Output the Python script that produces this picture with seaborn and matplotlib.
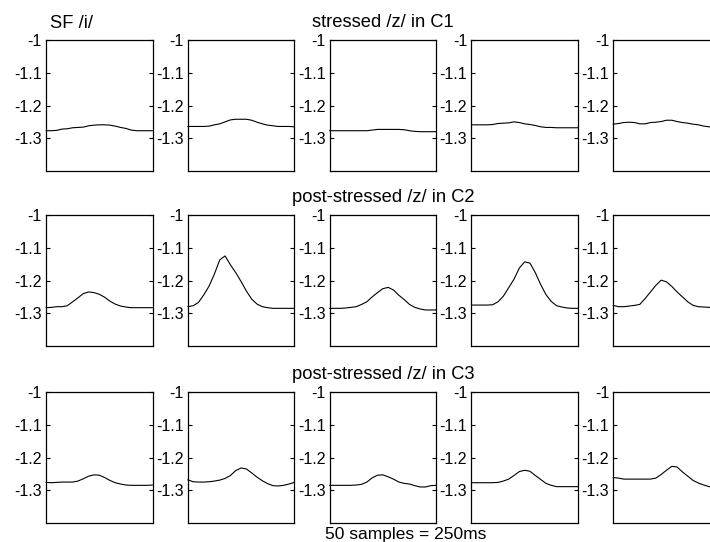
import matplotlib
matplotlib.use("Agg")
import matplotlib.pyplot as plt
import seaborn as sns
import numpy as np
import pandas as pd

# ---- data (21 samples per curve) ----
samples = list(range(21))

c1_1 = [-1.277, -1.277, -1.276, -1.272, -1.271, -1.268, -1.267, -1.266, -1.262, -1.260, -1.259,
        -1.259, -1.260, -1.263, -1.267, -1.270, -1.275, -1.277, -1.277, -1.277, -1.277]
c1_2 = [-1.264, -1.264, -1.264, -1.264, -1.263, -1.259, -1.256, -1.250, -1.244, -1.242, -1.242,
        -1.242, -1.245, -1.251, -1.256, -1.260, -1.262, -1.264, -1.264, -1.264, -1.265]
c1_3 = [-1.277, -1.277, -1.277, -1.277, -1.277, -1.277, -1.277, -1.277, -1.275, -1.273, -1.273,
        -1.273, -1.273, -1.273, -1.274, -1.277, -1.279, -1.280, -1.280, -1.280, -1.280]
c1_4 = [-1.259, -1.259, -1.259, -1.259, -1.258, -1.255, -1.254, -1.253, -1.250, -1.252, -1.256,
        -1.258, -1.261, -1.265, -1.267, -1.267, -1.268, -1.268, -1.268, -1.268, -1.268]
c1_5 = [-1.257, -1.255, -1.252, -1.251, -1.252, -1.256, -1.256, -1.252, -1.251, -1.249, -1.245,
        -1.245, -1.249, -1.252, -1.254, -1.257, -1.259, -1.263, -1.265, -1.267, -1.268]

c2_1 = [-1.283, -1.282, -1.280, -1.280, -1.277, -1.265, -1.253, -1.240, -1.235, -1.237, -1.242,
        -1.251, -1.263, -1.272, -1.278, -1.281, -1.283, -1.283, -1.283, -1.283, -1.283]
c2_2 = [-1.280, -1.277, -1.267, -1.244, -1.217, -1.180, -1.137, -1.125, -1.152, -1.176, -1.203,
        -1.232, -1.257, -1.272, -1.280, -1.283, -1.285, -1.285, -1.285, -1.285, -1.285]
c2_3 = [-1.285, -1.285, -1.285, -1.284, -1.282, -1.280, -1.273, -1.265, -1.250, -1.237, -1.225,
        -1.221, -1.229, -1.245, -1.258, -1.273, -1.282, -1.287, -1.290, -1.290, -1.290]
c2_4 = [-1.275, -1.275, -1.275, -1.275, -1.274, -1.265, -1.248, -1.222, -1.196, -1.162, -1.143,
        -1.147, -1.176, -1.212, -1.243, -1.264, -1.277, -1.281, -1.284, -1.285, -1.285]
c2_5 = [-1.276, -1.280, -1.280, -1.278, -1.276, -1.273, -1.255, -1.235, -1.215, -1.199, -1.204,
        -1.218, -1.235, -1.250, -1.265, -1.276, -1.280, -1.281, -1.282, -1.283, -1.283]

c3_1 = [-1.276, -1.277, -1.276, -1.275, -1.275, -1.275, -1.272, -1.265, -1.257, -1.253, -1.254,
        -1.261, -1.270, -1.277, -1.281, -1.284, -1.285, -1.285, -1.285, -1.285, -1.284]
c3_2 = [-1.268, -1.274, -1.275, -1.275, -1.274, -1.272, -1.269, -1.264, -1.255, -1.240, -1.232,
        -1.235, -1.247, -1.260, -1.271, -1.280, -1.286, -1.287, -1.285, -1.281, -1.276]
c3_3 = [-1.285, -1.285, -1.285, -1.285, -1.285, -1.284, -1.282, -1.275, -1.262, -1.254, -1.253,
        -1.259, -1.266, -1.275, -1.279, -1.281, -1.286, -1.290, -1.290, -1.286, -1.285]
c3_4 = [-1.277, -1.277, -1.277, -1.277, -1.277, -1.276, -1.272, -1.266, -1.255, -1.243, -1.239,
        -1.242, -1.255, -1.267, -1.279, -1.285, -1.289, -1.289, -1.289, -1.289, -1.289]
c3_5 = [-1.261, -1.263, -1.266, -1.266, -1.266, -1.266, -1.266, -1.266, -1.263, -1.252, -1.239,
        -1.227, -1.229, -1.244, -1.257, -1.270, -1.278, -1.284, -1.289, -1.291, -1.292]

rows = [[c1_1, c1_2, c1_3, c1_4, c1_5],
        [c2_1, c2_2, c2_3, c2_4, c2_5],
        [c3_1, c3_2, c3_3, c3_4, c3_5]]
row_titles = ["stressed /z/ in C1", "post-stressed /z/ in C2", "post-stressed /z/ in C3"]
y_ticks = [-1.3, -1.2, -1.1, -1.0]
y_ticklabels = ["-1.3", "-1.2", "-1.1", "-1"]
corner_label = "SF /i/"
x_note = "50 samples = 250ms"

# ---- style ----
sns.set_theme(style="white")
plt.rcParams["font.family"] = ["Liberation Sans", "DejaVu Sans"]
FS_TICK = 11.5
FS_TITLE = 13.2
FS_NOTE = 12.5

W, H = 710, 542
fig = plt.figure(figsize=(W / 100, H / 100), dpi=100)

lefts = [46 + 141.8 * j for j in range(5)]
tops = [40, 215, 392]
aw, ah = 106.5, 131

for r in range(3):
    for c in range(5):
        ax = fig.add_axes([lefts[c] / W, 1 - (tops[r] + ah) / H, aw / W, ah / H])
        df = pd.DataFrame({"sample": samples, "value": rows[r][c]})
        sns.lineplot(data=df, x="sample", y="value", ax=ax, color="black",
                     linewidth=0.8, clip_on=False)
        ax.set_xlim(samples[0], samples[-1])
        ax.set_ylim(-1.4, -1.0)
        ax.set_xticks([])
        ax.set_yticks(y_ticks)
        ax.set_yticklabels(y_ticklabels, fontsize=FS_TICK)
        ax.tick_params(axis="y", direction="in", length=3, width=0.8, pad=3,
                       left=True, right=True, colors="black")
        ax.set_xlabel("")
        ax.set_ylabel("")
        for s in ax.spines.values():
            s.set_visible(True)
            s.set_color("black")
            s.set_linewidth(0.9)
        ax.set_facecolor("white")
        if c == 2:
            ax.set_title(row_titles[r], fontsize=FS_TITLE, pad=9.5, color="black")

fig.text(50 / W, 1 - 28 / H, corner_label, fontsize=FS_TITLE, ha="left", va="baseline", color="black")
fig.text(406 / W, 1 - 539 / H, x_note, fontsize=FS_NOTE, ha="center", va="baseline", color="black")

fig.savefig("out.png", dpi=100, facecolor="white")
